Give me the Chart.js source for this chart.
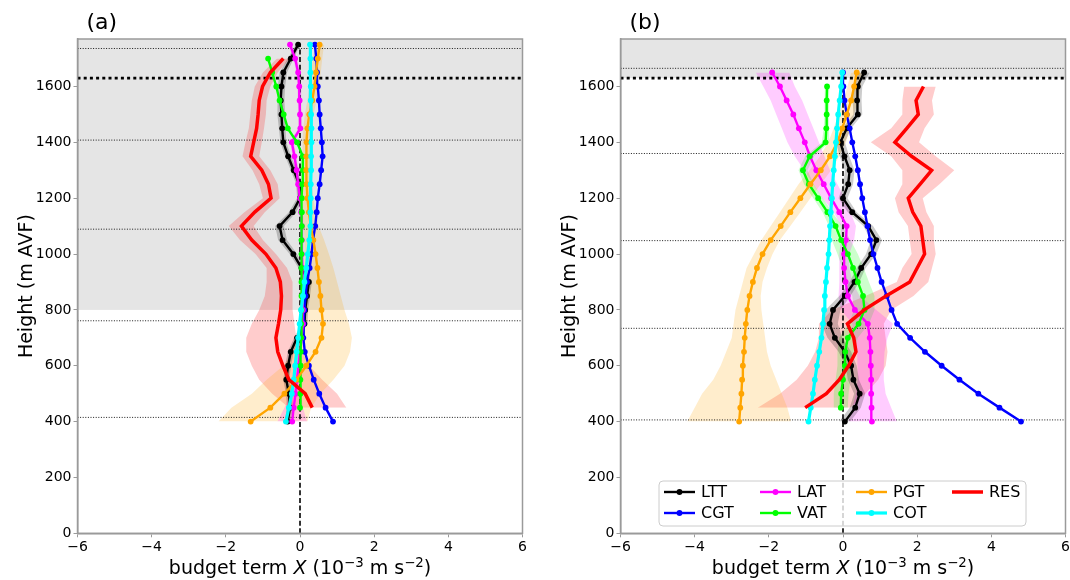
<!DOCTYPE html>
<html>
<head>
<meta charset="utf-8">
<title>Momentum budget profiles</title>
<script src="https://cdn.jsdelivr.net/npm/chart.js@4.4.1/dist/chart.umd.min.js"></script>
<style>
  html, body { margin: 0; padding: 0; background: #fff; overflow: hidden; }
  #wrap { position: relative; width: 1070px; height: 580px; }
  .panel { position: absolute; top: 0; }
</style>
</head>
<body>
<div id="wrap">
  <canvas id="panelA" class="panel" width="540" height="580" style="left:0"></canvas>
  <canvas id="panelB" class="panel" width="540" height="580" style="left:540px"></canvas>
</div>
<script>
Chart.defaults.font.family = '"DejaVu Sans", sans-serif';

// axis ticks
const xTicks = [-6, -4, -2, 0, 2, 4, 6];
const yTicks = [0, 200, 400, 600, 800, 1000, 1200, 1400, 1600];
const yMax = 1770;

const terms = ['LTT', 'CGT', 'LAT', 'VAT', 'PGT', 'COT', 'RES'];
const colors = {LTT: '#000000', CGT: '#0000ff', LAT: '#ff00ff', VAT: '#00ff00', PGT: '#ffa500', COT: '#00ffff', RES: '#ff0000'};

// ---- panel (a) ----
const hA = [400, 450, 500, 550, 600, 650, 700, 750, 800, 850, 900, 950, 1000, 1050, 1100, 1150, 1200, 1250, 1300, 1350, 1400, 1450, 1500, 1550, 1600, 1650, 1700, 1750];
const hAmid = hA.slice(1, 27); // 450 .. 1700

const LTT_a = [-0.33, -0.27, -0.30, -0.37, -0.32, -0.25, -0.08, 0.12, 0.14, 0.19, 0.24, 0.04, -0.18, -0.47, -0.55, -0.20, 0.00, -0.02, -0.17, -0.32, -0.45, -0.48, -0.50, -0.52, -0.50, -0.45, -0.25, -0.05];
const LTT_a_spread = [0.08, 0.08, 0.08, 0.08, 0.08, 0.08, 0.08, 0.08, 0.08, 0.08, 0.08, 0.08, 0.10, 0.12, 0.12, 0.10, 0.08, 0.08, 0.08, 0.08, 0.08, 0.09, 0.10, 0.10, 0.10, 0.10, 0.08, 0.06];
const CGT_a = [0.89, 0.69, 0.52, 0.37, 0.24, 0.13, 0.09, 0.10, 0.12, 0.15, 0.19, 0.26, 0.31, 0.35, 0.41, 0.45, 0.48, 0.53, 0.57, 0.61, 0.59, 0.56, 0.53, 0.51, 0.48, 0.46, 0.44, 0.40];
const LAT_a = [-0.21, -0.17, -0.12, -0.08, -0.04, 0.00, 0.04, 0.08, 0.08, 0.07, 0.06, 0.06, 0.05, 0.05, 0.05, 0.03, 0.00, -0.05, -0.09, -0.15, -0.22, 0.01, 0.00, -0.01, -0.02, -0.05, -0.13, -0.27];
const LAT_a_spread = [0.40, 0.25, 0.14, 0.08, 0.06, 0.05, 0.05, 0.05, 0.05, 0.05, 0.05, 0.05, 0.05, 0.05, 0.05, 0.05, 0.05, 0.05, 0.05, 0.05, 0.05, 0.05, 0.05, 0.05, 0.05, 0.05, 0.05, 0.05];
const VAT_a = [0.00, 0.01, 0.01, 0.02, 0.02, 0.03, 0.03, 0.04, 0.04, 0.04, 0.04, 0.04, 0.04, 0.05, 0.05, 0.05, 0.06, 0.08, 0.07, -0.08, -0.33, -0.44, -0.55, -0.64, -0.75, -0.86];
const PGT_a = [-1.33, -0.80, -0.42, -0.10, 0.17, 0.42, 0.58, 0.62, 0.58, 0.55, 0.51, 0.47, 0.42, 0.36, 0.29, 0.24, 0.20, 0.18, 0.17, 0.17, 0.18, 0.20, 0.25, 0.33, 0.39, 0.43, 0.48, 0.53];
const PGT_a_lo = [-2.2, -1.85, -1.3, -0.9, -0.45, -0.2, -0.05, 0.0, 0.05, 0.08, 0.1, 0.12, 0.12, 0.12, 0.1, 0.08, 0.07, 0.06, 0.06, 0.06, 0.07, 0.09, 0.13, 0.2, 0.26, 0.3, 0.35, 0.41];
const PGT_a_hi = [0.2, 0.3, 0.55, 0.9, 1.2, 1.35, 1.4, 1.32, 1.2, 1.1, 1.0, 0.9, 0.78, 0.65, 0.5, 0.42, 0.36, 0.32, 0.29, 0.28, 0.29, 0.31, 0.36, 0.45, 0.52, 0.56, 0.6, 0.65];
const COT_a = [-0.38, -0.30, -0.22, -0.17, -0.13, -0.09, -0.05, -0.01, 0.03, 0.08, 0.12, 0.17, 0.21, 0.25, 0.28, 0.28, 0.29, 0.29, 0.30, 0.30, 0.31, 0.31, 0.30, 0.29, 0.29, 0.28, 0.28, 0.27];
const RES_a = [0.33, 0.14, -0.30, -0.46, -0.60, -0.65, -0.58, -0.52, -0.50, -0.53, -0.65, -0.92, -1.30, -1.58, -1.22, -0.78, -0.85, -1.03, -1.33, -1.25, -1.17, -1.13, -1.10, -1.01, -0.80, -0.45];
const RES_a_lo = [-0.3, -0.75, -1.1, -1.3, -1.45, -1.45, -1.3, -1.1, -0.95, -0.9, -0.9, -1.2, -1.62, -1.92, -1.5, -1.0, -1.1, -1.28, -1.55, -1.47, -1.38, -1.34, -1.3, -1.22, -1.0, -0.62];
const RES_a_hi = [1.25, 1.0, 0.6, 0.25, 0.05, -0.1, -0.15, -0.2, -0.2, -0.2, -0.35, -0.65, -1.0, -1.25, -0.95, -0.55, -0.6, -0.8, -1.1, -1.03, -0.97, -0.92, -0.9, -0.8, -0.6, -0.28];

// ---- panel (b) ----
const hB = [400, 450, 500, 550, 600, 650, 700, 750, 800, 850, 900, 950, 1000, 1050, 1100, 1150, 1200, 1250, 1300, 1350, 1400, 1450, 1500, 1550, 1600, 1650];
const hBmid = hB.slice(1, 25); // 450 .. 1600

const LTT_b = [0.05, 0.33, 0.45, 0.28, 0.22, 0.05, -0.22, -0.36, -0.27, 0.05, 0.31, 0.49, 0.76, 0.90, 0.68, 0.25, 0.00, 0.14, 0.18, 0.04, -0.07, 0.10, 0.40, 0.38, 0.40, 0.57];
const LTT_b_spread = [0.15, 0.15, 0.15, 0.15, 0.15, 0.17, 0.20, 0.22, 0.20, 0.15, 0.13, 0.12, 0.14, 0.15, 0.13, 0.12, 0.12, 0.13, 0.13, 0.13, 0.12, 0.12, 0.12, 0.12, 0.12, 0.15];
const CGT_b = [4.80, 4.22, 3.65, 3.14, 2.66, 2.21, 1.81, 1.46, 1.31, 1.18, 1.04, 0.93, 0.82, 0.73, 0.66, 0.59, 0.52, 0.46, 0.40, 0.33, 0.25, 0.18, 0.10, 0.04, 0.01, 0.00];
const LAT_b = [0.78, 0.77, 0.76, 0.76, 0.75, 0.74, 0.72, 0.67, 0.32, 0.13, 0.07, 0.03, 0.03, 0.08, 0.10, -0.10, -0.32, -0.52, -0.72, -0.89, -1.03, -1.19, -1.34, -1.52, -1.70, -1.91];
const LAT_b_lo = [0.15, 0.25, 0.35, 0.4, 0.4, 0.38, 0.32, 0.25, -0.05, -0.12, -0.1, -0.1, -0.1, -0.06, -0.05, -0.25, -0.55, -0.8, -1.05, -1.3, -1.5, -1.65, -1.8, -1.95, -2.15, -2.35];
const LAT_b_hi = [1.45, 1.3, 1.15, 1.1, 1.1, 1.12, 1.2, 1.35, 0.9, 0.45, 0.25, 0.17, 0.17, 0.3, 0.35, 0.2, 0.05, -0.15, -0.35, -0.5, -0.65, -0.8, -0.95, -1.1, -1.3, -1.45];
const VAT_b = [-0.06, -0.05, 0.00, 0.05, 0.06, 0.13, 0.42, 0.58, 0.54, 0.40, 0.27, 0.13, -0.05, -0.20, -0.42, -0.67, -0.92, -1.08, -0.90, -0.47, -0.45, -0.44, -0.44, -0.43];
const VAT_b_lo = [-0.25, -0.25, -0.2, -0.15, -0.15, -0.1, 0.15, 0.3, 0.25, 0.1, -0.02, -0.15, -0.3, -0.38, -0.55, -0.8, -1.05, -1.2, -1.02, -0.57, -0.52, -0.5, -0.5, -0.49];
const VAT_b_hi = [0.13, 0.15, 0.2, 0.25, 0.3, 0.4, 0.7, 0.85, 0.85, 0.7, 0.56, 0.4, 0.2, -0.02, -0.29, -0.54, -0.79, -0.96, -0.78, -0.37, -0.38, -0.38, -0.38, -0.37];
const PGT_b = [-2.80, -2.77, -2.74, -2.72, -2.70, -2.67, -2.65, -2.62, -2.58, -2.52, -2.43, -2.32, -2.17, -1.95, -1.68, -1.42, -1.15, -0.88, -0.60, -0.35, -0.15, -0.02, 0.10, 0.22, 0.30, 0.37];
const PGT_b_lo = [-4.2, -4.0, -3.8, -3.5, -3.3, -3.15, -3.0, -2.95, -2.9, -2.8, -2.7, -2.6, -2.4, -2.2, -1.95, -1.7, -1.45, -1.2, -0.9, -0.62, -0.4, -0.25, -0.12, 0.02, 0.12, 0.22];
const PGT_b_hi = [-1.4, -1.5, -1.65, -1.8, -1.95, -2.05, -2.1, -2.15, -2.2, -2.22, -2.17, -2.05, -1.9, -1.7, -1.42, -1.15, -0.88, -0.6, -0.32, -0.1, 0.08, 0.2, 0.3, 0.4, 0.47, 0.52];
const COT_b = [-0.93, -0.87, -0.81, -0.76, -0.70, -0.64, -0.58, -0.54, -0.51, -0.49, -0.46, -0.43, -0.39, -0.37, -0.35, -0.33, -0.30, -0.28, -0.25, -0.22, -0.19, -0.16, -0.13, -0.09, -0.05, -0.02];
const RES_b = [-1.02, -0.45, -0.10, 0.15, 0.35, 0.29, 0.12, 0.57, 1.16, 1.80, 2.00, 2.20, 2.15, 2.10, 1.88, 1.76, 2.08, 2.39, 1.85, 1.40, 1.72, 2.03, 1.97, 2.17];
const RES_b_lo = [-2.3, -1.7, -1.25, -0.95, -0.75, -0.65, -0.65, -0.3, 0.6, 1.45, 1.6, 1.85, 1.8, 1.75, 1.5, 1.4, 1.6, 1.6, 1.3, 0.75, 1.3, 1.6, 1.6, 1.65];
const RES_b_hi = [0.2, 0.6, 0.95, 1.15, 1.2, 1.15, 1.1, 1.3, 1.9, 2.3, 2.4, 2.5, 2.45, 2.45, 2.25, 2.15, 2.6, 3.0, 2.5, 2.05, 2.2, 2.45, 2.4, 2.5];

// reference heights (m AVF)
const levelsA = [415, 761, 1089, 1408, 1736];
const levelsB = [406, 734, 1048, 1360, 1665];
const inversionTop = 1630;

const frameColor = '#9a9a9a';

function profile(name, heights, values) {
  return {
    label: name,
    data: heights.map((h, i) => ({x: values[i], y: h})),
    borderColor: colors[name],
    backgroundColor: colors[name],
    borderWidth: name === 'RES' ? 3.5 : name === 'COT' ? 3.2 : 2.4,
    pointRadius: name === 'RES' ? 0 : 2.9,
    pointBorderWidth: 0,
    pointHoverRadius: 0,
    pointHitRadius: 0,
    fill: false,
    order: terms.length - terms.indexOf(name)
  };
}

// two invisible edges, the upper one filled down to the lower one
function band(heights, lo, hi, color) {
  const edge = vals => heights.map((h, i) => ({x: vals[i], y: h}));
  const base = {borderWidth: 0, borderColor: 'rgba(0,0,0,0)', pointRadius: 0, pointHoverRadius: 0, order: 20};
  return [
    Object.assign({data: edge(lo), fill: false}, base),
    Object.assign({data: edge(hi), fill: '-1', backgroundColor: color}, base)
  ];
}

const spreadBand = (heights, v, s, color) =>
  band(heights, v.map((d, i) => d - s[i]), v.map((d, i) => d + s[i]), color);

const minus = v => (v < 0 ? '\u2212' + Math.abs(v) : String(v));

function drawXTitle(ctx, cx, baseline) {
  const size = 19;
  const parts = [
    {t: 'budget term ', f: 1}, {t: 'X', f: 1, it: true}, {t: ' (10', f: 1},
    {t: '\u22123', f: 0.7, up: 0.38}, {t: ' m s', f: 1}, {t: '\u22122', f: 0.7, up: 0.38}, {t: ')', f: 1}
  ];
  const fontOf = p => (p.it ? 'italic ' : '') + (size * p.f) + 'px "DejaVu Sans"';
  let total = 0;
  parts.forEach(p => { ctx.font = fontOf(p); p.w = ctx.measureText(p.t).width; total += p.w; });
  let x = cx - total / 2;
  ctx.fillStyle = '#000';
  ctx.textBaseline = 'alphabetic';
  ctx.textAlign = 'left';
  parts.forEach(p => {
    ctx.font = fontOf(p);
    ctx.fillText(p.t, x, baseline - (p.up || 0) * size);
    x += p.w;
  });
}

function drawLegend(chart) {
  const {ctx, chartArea: a} = chart;
  const left = a.left + 38.5, top = a.bottom - 52.3, w = 367, h = 45;
  ctx.save();
  ctx.beginPath();
  ctx.roundRect(left, top, w, h, 4);
  ctx.fillStyle = 'rgba(255,255,255,0.8)';
  ctx.fill();
  ctx.strokeStyle = '#cccccc';
  ctx.lineWidth = 1;
  ctx.stroke();
  terms.forEach((name, i) => {
    const ds = chart.data.datasets.find(d => d.label === name);
    const col = Math.floor(i / 2), row = i % 2;
    const x0 = left + 5 + col * 96, yc = top + 11 + row * 21;
    ctx.beginPath();
    ctx.strokeStyle = ds.borderColor;
    ctx.lineWidth = ds.borderWidth;
    ctx.moveTo(x0, yc);
    ctx.lineTo(x0 + 31, yc);
    ctx.stroke();
    if (ds.pointRadius) {
      ctx.beginPath();
      ctx.fillStyle = ds.borderColor;
      ctx.arc(x0 + 15.5, yc, ds.pointRadius, 0, Math.PI * 2);
      ctx.fill();
    }
    ctx.fillStyle = '#000';
    ctx.font = '16px "DejaVu Sans"';
    ctx.textBaseline = 'middle';
    ctx.textAlign = 'left';
    ctx.fillText(name, x0 + 37, yc + 1);
  });
  ctx.restore();
}

const overlay = cfg => ({
  id: 'overlay',
  beforeDraw(chart) {
    const {ctx, chartArea: a, scales: {y}} = chart;
    const top = y.getPixelForValue(cfg.shade[1]);
    const bottom = y.getPixelForValue(cfg.shade[0]);
    ctx.save();
    ctx.fillStyle = '#e5e5e5';
    ctx.fillRect(a.left, top, a.right - a.left, bottom - top);
    ctx.restore();
  },
  beforeDatasetsDraw(chart) {
    const {ctx, chartArea: a, scales: {x, y}} = chart;
    const hline = h => {
      const py = y.getPixelForValue(h);
      ctx.beginPath();
      ctx.moveTo(a.left, py);
      ctx.lineTo(a.right, py);
      ctx.stroke();
    };
    ctx.save();
    ctx.strokeStyle = '#000';
    ctx.lineWidth = 0.9;
    ctx.setLineDash([1, 1.6]);
    cfg.levels.forEach(hline);
    ctx.lineWidth = 2.6;
    ctx.setLineDash([3, 3.2]);
    hline(inversionTop);
    ctx.lineWidth = 1.6;
    ctx.setLineDash([5, 2.6]);
    const px = x.getPixelForValue(0);
    ctx.beginPath();
    ctx.moveTo(px, y.getPixelForValue(0));
    ctx.lineTo(px, y.getPixelForValue(cfg.zeroTop));
    ctx.stroke();
    ctx.restore();
  },
  afterDatasetsDraw(chart) {
    const {ctx, chartArea: a} = chart;
    ctx.save();
    ctx.strokeStyle = frameColor;
    ctx.lineWidth = 1.5;
    ctx.strokeRect(a.left, a.top, a.right - a.left, a.bottom - a.top);
    ctx.restore();
  },
  afterDraw(chart) {
    const {ctx, chartArea: a} = chart;
    ctx.save();
    ctx.fillStyle = '#000';
    ctx.font = '22px "DejaVu Sans"';
    ctx.textBaseline = 'alphabetic';
    ctx.textAlign = 'left';
    ctx.fillText(cfg.letter, a.left + 9, 29);
    drawXTitle(ctx, (a.left + a.right) / 2, 574);
    ctx.restore();
    if (cfg.legend) drawLegend(chart);
  }
});

function makePanel(id, cfg) {
  const tickFont = {size: 14, family: '"DejaVu Sans"'};
  const grid = {display: true, drawOnChartArea: false, drawTicks: true, tickLength: 4, tickColor: frameColor, tickWidth: 1};
  const border = {display: true, color: frameColor, width: 1.5};
  return new Chart(document.getElementById(id), {
    type: 'line',
    data: {datasets: cfg.datasets},
    options: {
      responsive: false,
      animation: false,
      indexAxis: 'y',
      events: [],
      layout: {padding: {top: 39, right: cfg.padRight, bottom: 0, left: 0}},
      plugins: {
        legend: {display: false},
        tooltip: {enabled: false},
        filler: {drawTime: 'beforeDatasetsDraw'}
      },
      scales: {
        x: {
          type: 'linear', position: 'bottom', min: -6, max: 6,
          afterBuildTicks: s => { s.ticks = xTicks.map(v => ({value: v})); },
          afterFit: s => { s.height = 580 - 533.3; },
          ticks: {font: tickFont, color: '#000', padding: 1.5, maxRotation: 0, autoSkip: false, callback: minus},
          grid, border
        },
        y: {
          type: 'linear', position: 'left', min: 0, max: yMax,
          afterBuildTicks: s => { s.ticks = yTicks.map(v => ({value: v})); },
          afterFit: s => { s.width = cfg.axisWidth; },
          ticks: {font: tickFont, color: '#000', padding: 2, autoSkip: false, callback: v => String(v)},
          title: {display: true, text: 'Height (m AVF)', color: '#000',
                  font: {size: 19, family: '"DejaVu Sans"'}, padding: {top: cfg.titlePad, bottom: 0}},
          grid, border
        }
      }
    },
    plugins: [overlay(cfg)]
  });
}

makePanel('panelA', {
  letter: '(a)', axisWidth: 77.5, padRight: 17.5, titlePad: 16,
  shade: [800, yMax], levels: levelsA, zeroTop: 1750, legend: false,
  datasets: [
    profile('LTT', hA, LTT_a),
    profile('CGT', hA, CGT_a),
    profile('LAT', hA, LAT_a),
    profile('VAT', hAmid, VAT_a),
    profile('PGT', hA, PGT_a),
    profile('COT', hA, COT_a),
    profile('RES', hAmid, RES_a),
    ...spreadBand(hA, LTT_a, LTT_a_spread, 'rgba(0,0,0,0.2)'),
    ...spreadBand(hA, LAT_a, LAT_a_spread, 'rgba(255,0,255,0.2)'),
    ...band(hA, PGT_a_lo, PGT_a_hi, 'rgba(255,165,0,0.2)'),
    ...band(hAmid, RES_a_lo, RES_a_hi, 'rgba(255,0,0,0.2)')
  ]
});

makePanel('panelB', {
  letter: '(b)', axisWidth: 80.5, padRight: 14.5, titlePad: 19,
  shade: [inversionTop, yMax], levels: levelsB, zeroTop: 1650, legend: true,
  datasets: [
    profile('LTT', hB, LTT_b),
    profile('CGT', hB, CGT_b),
    profile('LAT', hB, LAT_b),
    profile('VAT', hBmid, VAT_b),
    profile('PGT', hB, PGT_b),
    profile('COT', hB, COT_b),
    profile('RES', hBmid, RES_b),
    ...spreadBand(hB, LTT_b, LTT_b_spread, 'rgba(0,0,0,0.2)'),
    ...band(hB, LAT_b_lo, LAT_b_hi, 'rgba(255,0,255,0.2)'),
    ...band(hBmid, VAT_b_lo, VAT_b_hi, 'rgba(0,255,0,0.2)'),
    ...band(hB, PGT_b_lo, PGT_b_hi, 'rgba(255,165,0,0.2)'),
    ...band(hBmid, RES_b_lo, RES_b_hi, 'rgba(255,0,0,0.2)')
  ]
});
</script>
</body>
</html>
